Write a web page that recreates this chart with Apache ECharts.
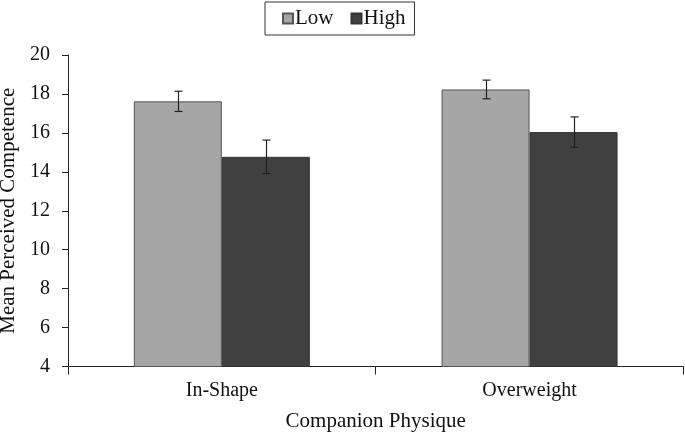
<!DOCTYPE html>
<html><head><meta charset="utf-8">
<script src="https://cdn.jsdelivr.net/npm/echarts@6/dist/echarts.min.js"></script>
<style>html,body{margin:0;padding:0;background:#fff}#c{width:685px;height:433px}</style>
</head><body><div id="c"></div>
<script>
const categories = ['In-Shape', 'Overweight'];
const seriesNames = ['Low', 'High'];
const lowMeans = [17.62, 18.23];
const highMeans = [14.77, 16.04];
const lowErr = [0.52, 0.48];
const highErr = [0.86, 0.78];
const yTicks = { min: 4, max: 20, interval: 2 };

const font = '"Liberation Serif", "Times New Roman", serif';
const chart = echarts.init(document.getElementById('c'), null, { renderer: 'canvas' });

function errSeries(means, errs, side) {
  return {
    type: 'custom',
    silent: true,
    z: 10,
    data: means.map((m, i) => [i, m - errs[i], m + errs[i]]),
    renderItem: function (params, api) {
      const band = api.size([1, 0])[0];
      const off = side * band * 0.143;
      const lo = api.coord([api.value(0), api.value(1)]);
      const hi = api.coord([api.value(0), api.value(2)]);
      const x = Math.round(lo[0] + off) + 0.5;
      const cw = 4;
      const st = { stroke: '#222', lineWidth: 1.2 };
      return {
        type: 'group',
        children: [
          { type: 'line', shape: { x1: x, y1: lo[1], x2: x, y2: hi[1] }, style: st },
          { type: 'line', shape: { x1: x - cw, y1: lo[1], x2: x + cw, y2: lo[1] }, style: st },
          { type: 'line', shape: { x1: x - cw, y1: hi[1], x2: x + cw, y2: hi[1] }, style: st }
        ]
      };
    }
  };
}

chart.setOption({
  animation: false,
  backgroundColor: '#fff',
  textStyle: { fontFamily: font, color: '#111' },
  legend: {
    data: seriesNames,
    top: 2,
    left: 265,
    padding: [6, 9, 6, 17],
    borderColor: '#333',
    borderWidth: 1,
    itemWidth: 10,
    itemHeight: 10,
    itemGap: 17,
    icon: 'rect',
    textStyle: { fontFamily: font, fontSize: 21, color: '#111', padding: [0, 0, 0, -3] }
  },
  grid: { left: 68, right: 1.6, top: 55, bottom: 66.5, containLabel: false, outerBoundsMode: 'none' },
  xAxis: {
    type: 'category',
    data: categories,
    name: 'Companion Physique',
    nameLocation: 'middle',
    nameGap: 44,
    nameTextStyle: { fontFamily: font, fontSize: 21, color: '#111' },
    axisLine: { lineStyle: { color: '#222', width: 1 } },
    axisTick: { show: true, length: 8, lineStyle: { color: '#222' } },
    axisLabel: { fontFamily: font, fontSize: 20, color: '#111', margin: 14 }
  },
  yAxis: {
    type: 'value',
    min: yTicks.min,
    max: yTicks.max,
    interval: yTicks.interval,
    name: 'Mean Perceived Competence',
    nameLocation: 'middle',
    nameGap: 45,
    nameTextStyle: { fontFamily: font, fontSize: 21, color: '#111' },
    axisLine: { show: true, lineStyle: { color: '#222', width: 1 } },
    axisTick: { show: true, length: 6, lineStyle: { color: '#222' } },
    axisLabel: { fontFamily: font, fontSize: 20, color: '#111', margin: 18 },
    splitLine: { show: false }
  },
  series: [
    {
      name: 'Low', type: 'bar', data: lowMeans, barGap: '0%', barCategoryGap: '42.8%',
      itemStyle: { color: '#a6a6a6', borderColor: '#555', borderWidth: 1 }
    },
    {
      name: 'High', type: 'bar', data: highMeans, barGap: '0%', barCategoryGap: '42.8%',
      itemStyle: { color: '#404040', borderColor: '#333', borderWidth: 1 }
    },
    errSeries(lowMeans, lowErr, -1),
    errSeries(highMeans, highErr, 1)
  ]
});
</script></body></html>
